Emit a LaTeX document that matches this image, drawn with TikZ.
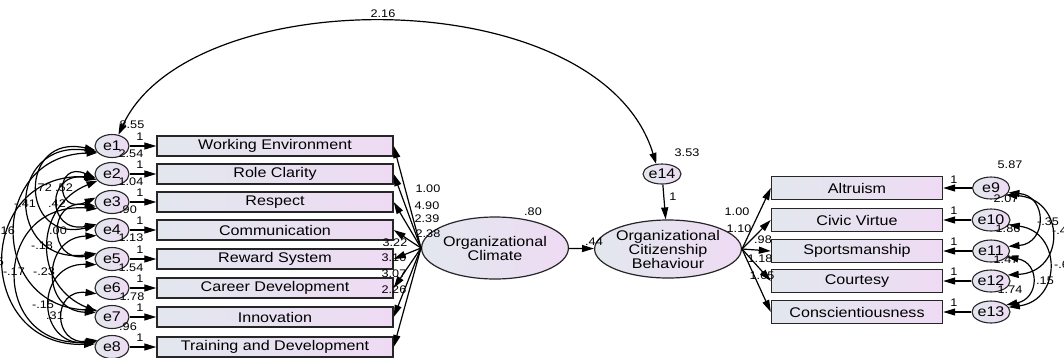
\documentclass[tikz,border=0pt]{standalone}
\usepackage{fontspec}
\setmainfont{Liberation Sans}
\usepackage{graphicx}
\usetikzlibrary{arrows.meta,shapes.geometric}
\definecolor{cL}{HTML}{E2E7EE}
\definecolor{cR}{HTML}{EEDBF3}
\newcommand{\sx}[1]{\scalebox{1.15}[1]{#1}}
\begin{document}
\begin{tikzpicture}[x=1pt,y=-1pt,
  obs/.style={draw=black!85, line width=1.4pt, left color=cL, right color=cR, minimum width=236pt, minimum height=20pt, inner sep=0pt, font=\fontsize{14}{16}\selectfont},
  obsr/.style={obs, minimum width=171pt, minimum height=23pt},
  err/.style={ellipse, draw=black!85, line width=1.1pt, left color=cL, right color=cR, minimum width=34pt, minimum height=23pt, inner sep=0pt, font=\fontsize{14}{14}\selectfont},
  errr/.style={err, minimum width=37pt, minimum height=22pt},
  lat/.style={ellipse, draw=black!85, line width=1.2pt, left color=cL, right color=cR, inner sep=0pt, align=center, font=\fontsize{14}{14}\selectfont},
  lab/.style={font=\fontsize{11}{11}\selectfont, inner sep=0pt},
  arr/.style={line width=1.2pt, -{Triangle[length=12pt,width=7pt]}},
  cov/.style={line width=1.2pt, {Triangle[length=11pt,width=7pt]}-{Triangle[length=11pt,width=7pt]}}]
\path[use as bounding box, fill=white] (0,0) rectangle (1064,357);

% left observed
\node[obs] (b1) at (275,146) {\sx{Working Environment}};
\node[obs] (b2) at (275,174) {\sx{Role Clarity}};
\node[obs] (b3) at (275,202) {\sx{Respect}};
\node[obs] (b4) at (275,230) {\sx{Communication}};
\node[obs] (b5) at (275,259) {\sx{Reward System}};
\node[obs] (b6) at (275,288) {\sx{Career Development}};
\node[obs] (b7) at (275,317) {\sx{Innovation}};
\node[obs] (b8) at (275,347) {\sx{Training and Development}};
% left errors
\node[err] (e1) at (112,146) {\sx{e1}};
\node[err] (e2) at (112,174) {\sx{e2}};
\node[err] (e3) at (112,202) {\sx{e3}};
\node[err] (e4) at (112,230) {\sx{e4}};
\node[err] (e5) at (112,259) {\sx{e5}};
\node[err] (e6) at (112,288) {\sx{e6}};
\node[err] (e7) at (112,317) {\sx{e7}};
\node[err] (e8) at (112,347) {\sx{e8}};
% latents
\node[lat, minimum width=140pt, minimum height=62pt] (oc) at (495,248) {\sx{Organizational}\\\sx{Climate}};
\node[lat, minimum width=137pt, minimum height=58pt] (ocb) at (668,249) {\sx{Organizational}\\\sx{Citizenship}\\\sx{Behaviour}};
\node[err, minimum width=37pt, minimum height=20pt] (e14) at (662,174) {\sx{e14}};
% right observed
\node[obsr] (r1) at (857,188) {\sx{Altruism}};
\node[obsr] (r2) at (857,220) {\sx{Civic Virtue}};
\node[obsr] (r3) at (857,251) {\sx{Sportsmanship}};
\node[obsr] (r4) at (857,281) {\sx{Courtesy}};
\node[obsr] (r5) at (857,312) {\sx{Conscientiousness}};
\node[errr] (e9) at (991,188) {\sx{e9}};
\node[errr] (e10) at (991,220) {\sx{e10}};
\node[errr] (e11) at (991,251) {\sx{e11}};
\node[errr] (e12) at (991,281) {\sx{e12}};
\node[errr] (e13) at (991,312) {\sx{e13}};

% error -> indicator
\foreach \i in {1,...,8} {\draw[arr] (e\i) -- (b\i);}
\draw[arr] (e9) -- (r1);
\draw[arr] (e10) -- (r2);
\draw[arr] (e11) -- (r3);
\draw[arr] (e12) -- (r4);
\draw[arr] (e13) -- (r5);
% loadings
\foreach \i in {1,...,8} {\draw[arr] (oc.west) -- (b\i.east);}
\foreach \i in {1,...,5} {\draw[arr] (ocb.east) -- (r\i.west);}
\draw[arr] (oc) -- (ocb);
\draw[arr] (e14) -- (ocb);

% big covariance
\draw[cov] (e1.60) .. controls (190,-20) and (600,-20) .. (e14.120);

% left covariances
\draw[cov] (e1.195) .. controls +(-77,-18) and +(-77,18) .. (e4.165);
\draw[cov] (e2.195) .. controls +(-41,-19) and +(-41,19) .. (e3.165);
\draw[cov] (e1.200) .. controls +(-91,-13) and +(-91,13) .. (e5.160);
\draw[cov] (e2.200) .. controls +(-51,-10) and +(-51,10) .. (e4.160);
\draw[cov] (e1.205) .. controls +(-109,3) and +(-109,-3) .. (e7.155);
\draw[cov] (e3.195) .. controls +(-48,-8) and +(-48,8) .. (e5.165);
\draw[cov] (e2.205) .. controls +(-64,26) and +(-64,-26) .. (e7.160);
\draw[cov] (e2.190) .. controls +(-121,-4) and +(-121,4) .. (e8.170);
\draw[cov] (e3.205) .. controls +(-107,-8) and +(-107,8) .. (e8.160);
\draw[cov] (e4.200) .. controls +(-55,2) and +(-55,-2) .. (e7.165);
\draw[cov] (e5.200) .. controls +(-61,-2) and +(-61,2) .. (e8.165);
\draw[cov] (e6.200) .. controls +(-45,-5) and +(-45,5) .. (e8.155);

% right covariances
\draw[cov] (e9.345) .. controls +(39,3) and +(39,-3) .. (e11.15);
\draw[cov] (e9.335) .. controls +(59,3) and +(59,-3) .. (e12.20);
\draw[cov] (e10.345) .. controls +(53,7) and +(53,-7) .. (e13.15);
\draw[cov] (e11.340) .. controls +(33,6) and +(33,-6) .. (e13.25);

% labels
\node[lab] (t216) at (383,14) {\sx{2.16}};
\node[lab] (v1) at (132,125) {\sx{8.55}};
\node[lab] (v2) at (131,154) {\sx{2.54}};
\node[lab] (v3) at (131,182) {\sx{1.04}};
\node[lab] (v4) at (128,210) {\sx{.90}};
\node[lab] (v5) at (131,238) {\sx{1.13}};
\node[lab] (v6) at (131,268) {\sx{1.54}};
\node[lab] (v7) at (132,297) {\sx{1.78}};
\node[lab] (v8) at (128,327) {\sx{.96}};
\foreach \y [count=\k] in {137,165,193,221,250,279,308,338} {\node[lab] (one\k) at (140,\y) {\sx{1}};}
\node[lab] (w1) at (428,189) {\sx{1.00}};
\node[lab] (w2) at (427,206) {\sx{4.90}};
\node[lab] (w3) at (427,219) {\sx{2.39}};
\node[lab] (w4) at (428,234) {\sx{2.38}};
\node[lab] (w5) at (395,243) {\sx{3.22}};
\node[lab] (w6) at (394,258) {\sx{3.10}};
\node[lab] (w7) at (394,274) {\sx{3.07}};
\node[lab] (w8) at (394,290) {\sx{2.26}};
\node[lab] (v80) at (533,212) {\sx{.80}};
\node[lab] (g44) at (594,242) {\sx{.44}};
\node[lab] (one14) at (673,197) {\sx{1}};
\node[lab] (v14) at (687,153) {\sx{3.53}};
\node[lab] (q1) at (737,212) {\sx{1.00}};
\node[lab] (q2) at (739,229) {\sx{1.10}};
\node[lab] (q3) at (763,240) {\sx{.98}};
\node[lab] (q4) at (760,259) {\sx{1.18}};
\node[lab] (q5) at (762,276) {\sx{1.05}};
\foreach \y [count=\k] in {180,211,242,272,303} {\node[lab] (oner\k) at (954,\y) {\sx{1}};}
\node[lab] (v9) at (1010,165) {\sx{5.87}};
\node[lab] (v10) at (1006,199) {\sx{2.07}};
\node[lab] (v11) at (1008,229) {\sx{1.86}};
\node[lab] (v12) at (1006,260) {\sx{1.47}};
\node[lab] (v13) at (1010,290) {\sx{1.74}};
\node[lab] (c1) at (1048,222) {\sx{-.35}};
\node[lab, anchor=west] (c2) at (1052,231) {\sx{-.42}};
\node[lab, anchor=west] (c3) at (1054,265) {\sx{-.61}};
\node[lab] (c4) at (1045,281) {\sx{.15}};
% left covariance labels
\node[lab] (k1) at (43,188) {\sx{.72}};
\node[lab] (k2) at (64,188) {\sx{.52}};
\node[lab] (k3) at (25,204) {\sx{-.41}};
\node[lab] (k4) at (57,204) {\sx{.42}};
\node[lab, anchor=east] (k5) at (15,231) {\sx{-.16}};
\node[lab] (k6) at (58,231) {\sx{.00}};
\node[lab] (k7) at (42,246) {\sx{-.18}};
\node[lab, anchor=east] (k8) at (4,262) {\sx{-.25}};
\node[lab, anchor=east] (k9) at (25,272) {\sx{-.17}};
\node[lab] (k10) at (44,272) {\sx{-.23}};
\node[lab] (k11) at (43,305) {\sx{-.15}};
\node[lab] (k12) at (55,316) {\sx{.31}};
\end{tikzpicture}
\end{document}
